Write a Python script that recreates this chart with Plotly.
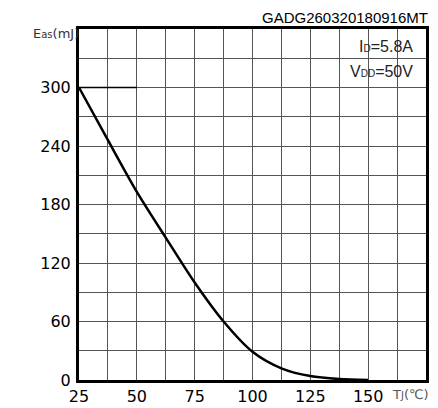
import plotly.graph_objects as go

# Data
tj = [25, 37.5, 50, 62.5, 75, 87.5, 100, 112.5, 125, 137.5, 150]
eas = [300, 246, 193, 146, 100, 60, 29, 12, 4, 1, 0]

ref_x = [25, 50]
ref_y = [300, 300]

x_ticks = [25, 50, 75, 100, 125, 150]
y_ticks = [0, 60, 120, 180, 240, 300]

fig = go.Figure()
fig.add_trace(go.Scatter(x=ref_x, y=ref_y, mode="lines",
                         line=dict(color="black", width=1.5), hoverinfo="skip"))
fig.add_trace(go.Scatter(x=tj, y=eas, mode="lines",
                         line=dict(color="black", width=2.5, shape="spline", smoothing=0.8)))

grid_color = "#555555"
fig.update_layout(
    width=438, height=408,
    margin=dict(l=79, r=12, t=29, b=28, autoexpand=False),
    paper_bgcolor="white", plot_bgcolor="white",
    showlegend=False,
    font=dict(family="DejaVu Sans", size=16, color="black"),
    xaxis=dict(range=[25, 175], tickvals=x_ticks, ticks="", automargin=False,
               showgrid=True, gridcolor=grid_color, gridwidth=1,
               minor=dict(dtick=12.5, tick0=25, showgrid=True, gridcolor=grid_color, gridwidth=1),
               showline=True, linecolor="black", linewidth=3, mirror=True,
               zeroline=False, ticklabelstandoff=0,
               tickfont=dict(family="DejaVu Sans", size=16, color="black")),
    yaxis=dict(range=[0, 360], tickvals=y_ticks, ticks="", automargin=False,
               showgrid=True, gridcolor=grid_color, gridwidth=1,
               minor=dict(dtick=30, tick0=0, showgrid=True, gridcolor=grid_color, gridwidth=1),
               showline=True, linecolor="black", linewidth=3, mirror=True,
               zeroline=False, ticklabelstandoff=2,
               tickfont=dict(family="DejaVu Sans", size=16, color="black")),
)

fig.add_annotation(text="GADG260320180916MT", xref="paper", yref="paper", x=1, y=1,
                   xanchor="right", yanchor="middle", xshift=4, yshift=12, showarrow=False,
                   font=dict(family="Liberation Sans", size=15, color="black"))
fig.add_annotation(text="E<span style='font-size:10px'>as</span>(mJ)", xref="paper", yref="paper",
                   x=0, y=1, xanchor="right", yanchor="middle", xshift=2, yshift=-4,
                   showarrow=False, font=dict(family="DejaVu Sans", size=13, color="#333333"))
fig.add_annotation(text="I<span style='font-size:10px'>D</span>=5.8A", xref="paper", yref="paper",
                   x=1, y=1, xanchor="right", yanchor="middle", xshift=-11, yshift=-17,
                   showarrow=False, font=dict(family="Liberation Sans", size=16, color="#222222"))
fig.add_annotation(text="V<span style='font-size:10px'>DD</span>=50V", xref="paper", yref="paper",
                   x=1, y=1, xanchor="right", yanchor="middle", xshift=-11, yshift=-42,
                   showarrow=False, font=dict(family="Liberation Sans", size=16, color="#222222"))
fig.add_annotation(text="T<span style='font-size:10px'>J</span>(℃)", xref="paper", yref="paper",
                   x=1, y=0, xanchor="right", yanchor="middle", xshift=5, yshift=-14,
                   showarrow=False, font=dict(family="DejaVu Sans", size=13, color="#555555"))

fig.write_html("out.html")
